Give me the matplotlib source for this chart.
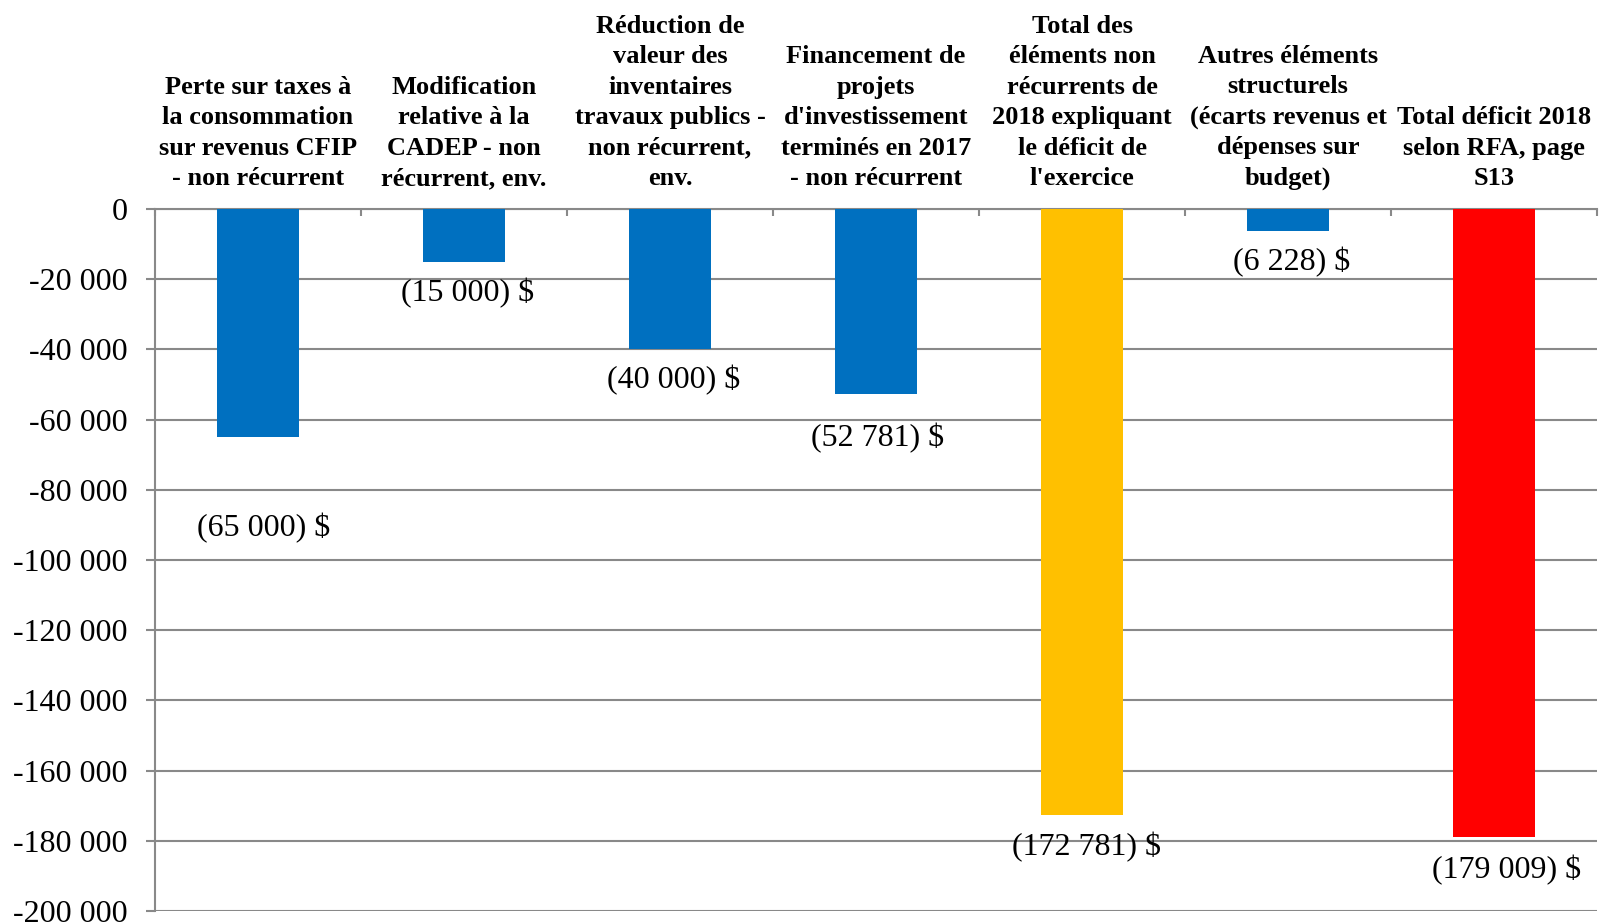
import matplotlib
matplotlib.use("Agg")
import matplotlib.pyplot as plt
from matplotlib.ticker import FuncFormatter, FixedLocator

categories = [
    "Perte sur taxes à\nla consommation\nsur revenus CFIP\n- non récurrent",
    "Modification\nrelative à la\nCADEP - non\nrécurrent, env.",
    "Réduction de\nvaleur des\ninventaires\ntravaux publics -\nnon récurrent,\nenv.",
    "Financement de\nprojets\nd'investissement\nterminés en 2017\n- non récurrent",
    "Total des\néléments non\nrécurrents de\n2018 expliquant\nle déficit de\nl'exercice",
    "Autres éléments\nstructurels\n(écarts revenus et\ndépenses sur\nbudget)",
    "Total déficit 2018\nselon RFA, page\nS13",
]
values = [-65000, -15000, -40000, -52781, -172781, -6228, -179009]
value_labels = ["(65 000) $", "(15 000) $", "(40 000) $", "(52 781) $",
                "(172 781) $", "(6 228) $", "(179 009) $"]
colors = ["#0070C0", "#0070C0", "#0070C0", "#0070C0", "#FFC000", "#0070C0", "#FF0000"]

# label placement offsets in pixels (x right, y down from bar end)
label_dx = [6, 4, 4, 2, 4, 4, 13]
label_dy = [91, 31, 31, 44, 32, 31, 33]

W, H = 1599, 924
fig = plt.figure(figsize=(W / 100, H / 100), dpi=100)
left, right, top, bottom = 155, 1597, 209, 911
ax = fig.add_axes([left / W, 1 - bottom / H, (right - left) / W, (bottom - top) / H])

serif = ["Liberation Serif", "DejaVu Serif"]
gray = "#898989"

x = list(range(len(values)))
ax.bar(x, values, width=0.4, color=colors, zorder=3)
ax.set_xlim(-0.5, len(values) - 0.5)
ax.set_ylim(-200000, 0)

ax.set_yticks(range(-200000, 1, 20000))
ax.yaxis.set_major_formatter(FuncFormatter(lambda v, p: f"{int(round(v)):,}".replace(",", " ")))
ax.tick_params(axis="y", length=9 / 1.389, width=1.5, color=gray, pad=13,
               labelsize=23, direction="out")
for lab in ax.get_yticklabels():
    lab.set_fontfamily(serif)
ax.grid(axis="y", color=gray, linewidth=1.5, zorder=0)

ax.xaxis.tick_top()
ax.set_xticks(x)
ax.set_xticklabels([])
ax.xaxis.set_minor_locator(FixedLocator([i + 0.5 for i in range(-1, len(values))]))
ax.tick_params(axis="x", which="major", length=0)
ax.tick_params(axis="x", which="minor", direction="in", length=7 / 1.389, width=1.5,
               color=gray, top=True, bottom=False)

for s in ["right", "bottom"]:
    ax.spines[s].set_visible(False)
for s in ["left", "top"]:
    ax.spines[s].set_color(gray)
    ax.spines[s].set_linewidth(1.5)

for i, cat in enumerate(categories):
    ax.annotate(cat, xy=(i, 0), xycoords="data", xytext=(0, 19),
                textcoords="offset pixels", ha="center", va="bottom",
                fontsize=19, fontweight="bold", fontfamily=serif,
                linespacing=1.41, annotation_clip=False)

for i, (v, lab) in enumerate(zip(values, value_labels)):
    ax.annotate(lab, xy=(i, v), xytext=(label_dx[i], -label_dy[i]),
                textcoords="offset pixels", ha="center", va="center",
                fontsize=23, fontfamily=serif, zorder=5)

fig.savefig("out.png", dpi=100)
